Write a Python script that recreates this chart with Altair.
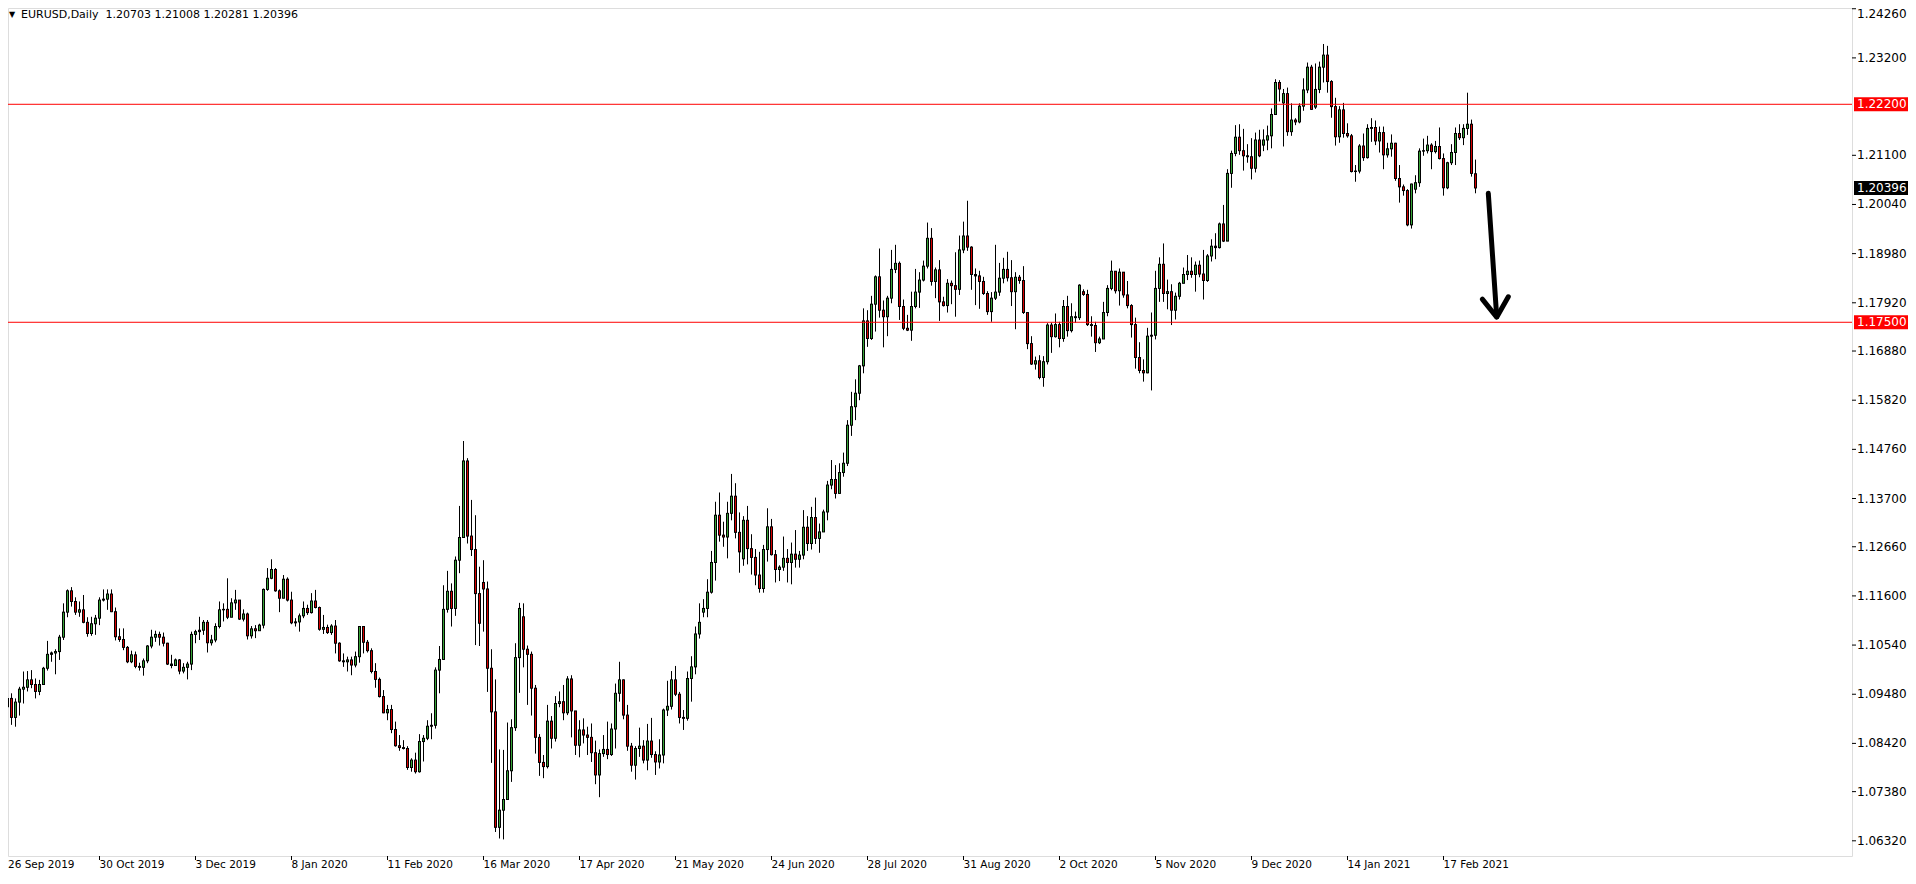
import altair as alt
import numpy as np
import pandas as pd

# ---------------- data ----------------
symbol_title = "EURUSD,Daily\u00a0\u00a01.20703 1.21008 1.20281 1.20396"

date_labels = ["26 Sep 2019", "30 Oct 2019", "3 Dec 2019", "8 Jan 2020", "11 Feb 2020",
               "16 Mar 2020", "17 Apr 2020", "21 May 2020", "24 Jun 2020", "28 Jul 2020",
               "31 Aug 2020", "2 Oct 2020", "5 Nov 2020", "9 Dec 2020", "14 Jan 2021",
               "17 Feb 2021"]
bars_per_label = 24

price_ticks = [1.24260, 1.23200, 1.21100, 1.20040, 1.18980, 1.17920, 1.16880, 1.15820,
               1.14760, 1.13700, 1.12660, 1.11600, 1.10540, 1.09480, 1.08420, 1.07380,
               1.06320]

level_lines = [1.22200, 1.17500]
last_price = 1.20396

opens = [
    1.0943, 1.0921, 1.0939, 1.0898, 1.0931, 1.0959, 1.0963, 1.0979, 1.0969, 1.0954,
    1.0969, 1.1004, 1.1034, 1.1037, 1.1040, 1.1071, 1.1125, 1.1171, 1.1148, 1.1125,
    1.1130, 1.1103, 1.1079, 1.1100, 1.1112, 1.1151, 1.1153, 1.1164, 1.1126, 1.1072,
    1.1066, 1.1049, 1.1018, 1.1033, 1.1008, 1.1006, 1.1020, 1.1052, 1.1071, 1.1077,
    1.1071, 1.1058, 1.1013, 1.1010, 1.1022, 1.0998, 1.1006, 1.1013, 1.1077, 1.1083,
    1.1086, 1.1103, 1.1059, 1.1065, 1.1094, 1.1130, 1.1131, 1.1114, 1.1145, 1.1151,
    1.1110, 1.1121, 1.1074, 1.1089, 1.1085, 1.1097, 1.1174, 1.1198, 1.1217, 1.1171,
    1.1155, 1.1196, 1.1151, 1.1102, 1.1104, 1.1117, 1.1133, 1.1124, 1.1149, 1.1135,
    1.1088, 1.1092, 1.1081, 1.1095, 1.1058, 1.1020, 1.1018, 1.1022, 1.1011, 1.1029,
    1.1094, 1.1060, 1.1042, 1.0997, 1.0980, 1.0943, 1.0908, 1.0915, 1.0872, 1.0837,
    1.0833, 1.0831, 1.0790, 1.0806, 1.0781, 1.0846, 1.0853, 1.0879, 1.0881, 1.1000,
    1.1023, 1.1131, 1.1170, 1.1133, 1.1237, 1.1286, 1.1451, 1.1289, 1.1260, 1.1165,
    1.1189, 1.1175, 1.1004, 1.0910, 1.0661, 1.0698, 1.0721, 1.0783, 1.0876, 1.1027,
    1.1115, 1.1045, 1.1034, 1.0961, 1.0855, 1.0801, 1.0792, 1.0890, 1.0853, 1.0928,
    1.0932, 1.0908, 1.0981, 1.0912, 1.0838, 1.0871, 1.0860, 1.0855, 1.0822, 1.0774,
    1.0820, 1.0829, 1.0818, 1.0873, 1.0950, 1.0979, 1.0903, 1.0836, 1.0795, 1.0831,
    1.0836, 1.0806, 1.0847, 1.0818, 1.0802, 1.0817, 1.0914, 1.0922, 1.0979, 1.0948,
    1.0898, 1.0896, 1.0982, 1.1007, 1.1078, 1.1125, 1.1133, 1.1168, 1.1232, 1.1334,
    1.1291, 1.1287, 1.1338, 1.1375, 1.1297, 1.1240, 1.1323, 1.1262, 1.1243, 1.1205,
    1.1176, 1.1260, 1.1309, 1.1249, 1.1217, 1.1222, 1.1241, 1.1232, 1.1250, 1.1239,
    1.1248, 1.1308, 1.1273, 1.1329, 1.1284, 1.1298, 1.1341, 1.1399, 1.1411, 1.1381,
    1.1426, 1.1446, 1.1528, 1.1568, 1.1597, 1.1656, 1.1753, 1.1715, 1.1789, 1.1848,
    1.1776, 1.1762, 1.1802, 1.1864, 1.1877, 1.1784, 1.1737, 1.1733, 1.1784, 1.1815,
    1.1841, 1.1871, 1.1931, 1.1838, 1.1863, 1.1794, 1.1786, 1.1834, 1.1829, 1.1821,
    1.1906, 1.1936, 1.1912, 1.1853, 1.1850, 1.1838, 1.1812, 1.1773, 1.1802, 1.1815,
    1.1845, 1.1864, 1.1846, 1.1816, 1.1847, 1.1840, 1.1771, 1.1704, 1.1660, 1.1667,
    1.1631, 1.1665, 1.1744, 1.1719, 1.1745, 1.1715, 1.1784, 1.1732, 1.1762, 1.1760,
    1.1816, 1.1810, 1.1745, 1.1743, 1.1706, 1.1714, 1.1771, 1.1823, 1.1860, 1.1818,
    1.1858, 1.1809, 1.1786, 1.1745, 1.1674, 1.1646, 1.1641, 1.1720, 1.1722, 1.1823,
    1.1875, 1.1812, 1.1816, 1.1776, 1.1806, 1.1834, 1.1853, 1.1860, 1.1853, 1.1873,
    1.1854, 1.1840, 1.1893, 1.1914, 1.1911, 1.1962, 1.1925, 1.2071, 1.2114, 1.2149,
    1.2120, 1.2109, 1.2107, 1.2082, 1.2143, 1.2132, 1.2143, 1.2152, 1.2198, 1.2267,
    1.2223, 1.2243, 1.2161, 1.2186, 1.2182, 1.2216, 1.2251, 1.2300, 1.2214, 1.2252,
    1.2300, 1.2326, 1.2269, 1.2215, 1.2150, 1.2208, 1.2157, 1.2152, 1.2075, 1.2076,
    1.2130, 1.2105, 1.2168, 1.2170, 1.2141, 1.2159, 1.2111, 1.2124, 1.2136, 1.2060,
    1.2042, 1.2034, 1.1960, 1.2037, 1.2051, 1.2119, 1.2120, 1.2132, 1.2118, 1.2129,
    1.2103, 1.2040, 1.2094, 1.2116, 1.2157, 1.2148, 1.2168, 1.2177, 1.20703,
]

highs = [
    1.0968, 1.0959, 1.0950, 1.0939, 1.0964, 1.0997, 1.0998, 1.1000, 1.0982, 1.0979,
    1.1007, 1.1063, 1.1040, 1.1045, 1.1076, 1.1144, 1.1174, 1.1179, 1.1157, 1.1148,
    1.1162, 1.1114, 1.1115, 1.1119, 1.1157, 1.1174, 1.1174, 1.1174, 1.1135, 1.1090,
    1.1090, 1.1052, 1.1042, 1.1040, 1.1016, 1.1025, 1.1054, 1.1087, 1.1085, 1.1083,
    1.1081, 1.1059, 1.1033, 1.1025, 1.1024, 1.1015, 1.1018, 1.1083, 1.1087, 1.1115,
    1.1108, 1.1108, 1.1076, 1.1101, 1.1148, 1.1144, 1.1198, 1.1155, 1.1173, 1.1151,
    1.1131, 1.1124, 1.1095, 1.1097, 1.1100, 1.1176, 1.1220, 1.1239, 1.1220, 1.1174,
    1.1205, 1.1200, 1.1169, 1.1112, 1.1122, 1.1148, 1.1141, 1.1166, 1.1173, 1.1137,
    1.1119, 1.1098, 1.1099, 1.1108, 1.1060, 1.1036, 1.1029, 1.1029, 1.1040, 1.1095,
    1.1094, 1.1065, 1.1047, 1.1015, 1.0984, 1.0957, 1.0925, 1.0925, 1.0889, 1.0860,
    1.0849, 1.0836, 1.0810, 1.0822, 1.0862, 1.0860, 1.0892, 1.0907, 1.1006, 1.1052,
    1.1183, 1.1214, 1.1187, 1.1245, 1.1354, 1.1494, 1.1457, 1.1367, 1.1334, 1.1223,
    1.1237, 1.1191, 1.1045, 1.0980, 1.0829, 1.0828, 1.0887, 1.0894, 1.1058, 1.1145,
    1.1144, 1.1053, 1.1040, 1.0968, 1.0862, 1.0817, 1.0925, 1.0901, 1.0944, 1.0954,
    1.0968, 1.0987, 1.0989, 1.0912, 1.0892, 1.0896, 1.0878, 1.0885, 1.0848, 1.0829,
    1.0860, 1.0889, 1.0885, 1.0971, 1.1018, 1.0980, 1.0925, 1.0843, 1.0836, 1.0876,
    1.0849, 1.0884, 1.0897, 1.0825, 1.0851, 1.0917, 1.0977, 1.0998, 1.1009, 1.0953,
    1.0914, 1.0997, 1.1030, 1.1094, 1.1144, 1.1153, 1.1196, 1.1257, 1.1363, 1.1383,
    1.1320, 1.1363, 1.1423, 1.1403, 1.1340, 1.1332, 1.1354, 1.1293, 1.1261, 1.1255,
    1.1270, 1.1349, 1.1326, 1.1259, 1.1226, 1.1288, 1.1261, 1.1275, 1.1302, 1.1257,
    1.1345, 1.1332, 1.1352, 1.1372, 1.1316, 1.1346, 1.1408, 1.1453, 1.1442, 1.1446,
    1.1469, 1.1539, 1.1600, 1.1627, 1.1658, 1.1780, 1.1776, 1.1807, 1.1851, 1.1909,
    1.1797, 1.1807, 1.1906, 1.1917, 1.1881, 1.1799, 1.1766, 1.1816, 1.1865, 1.1858,
    1.1883, 1.1965, 1.1953, 1.1868, 1.1884, 1.1805, 1.1843, 1.1840, 1.1901, 1.1937,
    1.1967, 1.2012, 1.1914, 1.1866, 1.1861, 1.1848, 1.1817, 1.1815, 1.1917, 1.1878,
    1.1889, 1.1902, 1.1884, 1.1858, 1.1852, 1.1871, 1.1768, 1.1720, 1.1676, 1.1679,
    1.1677, 1.1748, 1.1749, 1.1769, 1.1751, 1.1798, 1.1807, 1.1791, 1.1773, 1.1832,
    1.1821, 1.1820, 1.1763, 1.1751, 1.1719, 1.1794, 1.1830, 1.1883, 1.1859, 1.1866,
    1.1858, 1.1839, 1.1789, 1.1760, 1.1707, 1.1670, 1.1738, 1.1771, 1.1861, 1.1890,
    1.1920, 1.1842, 1.1832, 1.1814, 1.1837, 1.1868, 1.1895, 1.1890, 1.1881, 1.1883,
    1.1906, 1.1897, 1.1929, 1.1942, 1.1965, 1.2003, 1.2080, 1.2120, 1.2175, 1.2177,
    1.2167, 1.2134, 1.2147, 1.2159, 1.2165, 1.2166, 1.2174, 1.2211, 1.2274, 1.2272,
    1.2253, 1.2256, 1.2222, 1.2190, 1.2222, 1.2276, 1.2310, 1.2305, 1.2308, 1.2312,
    1.2350, 1.2346, 1.2272, 1.2234, 1.2216, 1.2223, 1.2179, 1.2156, 1.2089, 1.2134,
    1.2157, 1.2177, 1.2190, 1.2185, 1.2172, 1.2172, 1.2137, 1.2155, 1.2137, 1.2089,
    1.2047, 1.2037, 1.2049, 1.2067, 1.2125, 1.2146, 1.2152, 1.2136, 1.2141, 1.2170,
    1.2114, 1.2096, 1.2134, 1.2170, 1.2177, 1.2177, 1.2245, 1.2187, 1.21008,
]

lows = [
    1.0907, 1.0903, 1.0882, 1.0878, 1.0902, 1.0928, 1.0954, 1.0961, 1.0939, 1.0946,
    1.0968, 1.0999, 1.1018, 1.0991, 1.1022, 1.1065, 1.1114, 1.1137, 1.1119, 1.1115,
    1.1101, 1.1072, 1.1074, 1.1076, 1.1097, 1.1148, 1.1130, 1.1125, 1.1064, 1.1061,
    1.1043, 1.1015, 1.1015, 1.1004, 1.0999, 1.0988, 1.1015, 1.1047, 1.1061, 1.1053,
    1.1051, 1.1011, 1.1004, 1.1009, 1.0991, 1.0993, 1.0980, 1.1000, 1.1058, 1.1065,
    1.1076, 1.1038, 1.1053, 1.1060, 1.1090, 1.1105, 1.1110, 1.1119, 1.1130, 1.1108,
    1.1105, 1.1066, 1.1068, 1.1069, 1.1085, 1.1090, 1.1171, 1.1196, 1.1169, 1.1125,
    1.1162, 1.1148, 1.1099, 1.1094, 1.1083, 1.1112, 1.1119, 1.1122, 1.1133, 1.1085,
    1.1078, 1.1078, 1.1076, 1.1036, 1.1018, 1.1007, 1.0997, 1.0989, 1.1006, 1.1016,
    1.1036, 1.1038, 1.0993, 1.0962, 1.0941, 1.0907, 1.0892, 1.0864, 1.0835, 1.0826,
    1.0829, 1.0785, 1.0781, 1.0777, 1.0779, 1.0803, 1.0849, 1.0851, 1.0874, 1.0950,
    1.1036, 1.1124, 1.1094, 1.1117, 1.1209, 1.1339, 1.1273, 1.1246, 1.1054, 1.1052,
    1.1083, 1.0953, 1.0800, 1.0651, 1.0637, 1.0635, 1.0720, 1.0759, 1.0869, 1.0951,
    1.1006, 1.0925, 1.0902, 1.0820, 1.0772, 1.0767, 1.0788, 1.0831, 1.0846, 1.0920,
    1.0892, 1.0903, 1.0855, 1.0817, 1.0812, 1.0842, 1.0817, 1.0802, 1.0754, 1.0726,
    1.0813, 1.0808, 1.0815, 1.0831, 1.0932, 1.0894, 1.0826, 1.0781, 1.0764, 1.0813,
    1.0799, 1.0784, 1.0811, 1.0774, 1.0788, 1.0799, 1.0901, 1.0915, 1.0944, 1.0885,
    1.0871, 1.0891, 1.0932, 1.0991, 1.1068, 1.1114, 1.1114, 1.1165, 1.1193, 1.1277,
    1.1266, 1.1241, 1.1323, 1.1284, 1.1210, 1.1225, 1.1228, 1.1206, 1.1183, 1.1167,
    1.1167, 1.1234, 1.1247, 1.1189, 1.1192, 1.1214, 1.1189, 1.1185, 1.1221, 1.1221,
    1.1239, 1.1257, 1.1260, 1.1272, 1.1253, 1.1298, 1.1323, 1.1390, 1.1370, 1.1381,
    1.1417, 1.1440, 1.1505, 1.1539, 1.1582, 1.1640, 1.1697, 1.1712, 1.1730, 1.1760,
    1.1696, 1.1720, 1.1791, 1.1856, 1.1755, 1.1733, 1.1731, 1.1710, 1.1780, 1.1781,
    1.1838, 1.1866, 1.1829, 1.1802, 1.1753, 1.1784, 1.1771, 1.1789, 1.1762, 1.1809,
    1.1899, 1.1904, 1.1820, 1.1787, 1.1779, 1.1809, 1.1766, 1.1751, 1.1798, 1.1807,
    1.1834, 1.1838, 1.1785, 1.1735, 1.1833, 1.1768, 1.1692, 1.1658, 1.1648, 1.1627,
    1.1611, 1.1659, 1.1684, 1.1717, 1.1696, 1.1708, 1.1719, 1.1728, 1.1749, 1.1755,
    1.1807, 1.1742, 1.1719, 1.1686, 1.1703, 1.1715, 1.1763, 1.1819, 1.1812, 1.1786,
    1.1803, 1.1780, 1.1717, 1.1650, 1.1640, 1.1622, 1.1640, 1.1603, 1.1713, 1.1794,
    1.1794, 1.1778, 1.1744, 1.1756, 1.1799, 1.1836, 1.1841, 1.1846, 1.1816, 1.1847,
    1.1799, 1.1837, 1.1881, 1.1886, 1.1909, 1.1923, 1.1926, 1.2040, 1.2108, 1.2111,
    1.2077, 1.2094, 1.2058, 1.2073, 1.2106, 1.2119, 1.2121, 1.2125, 1.2197, 1.2226,
    1.2129, 1.2152, 1.2152, 1.2175, 1.2179, 1.2206, 1.2244, 1.2208, 1.2210, 1.2244,
    1.2267, 1.2245, 1.2191, 1.2131, 1.2137, 1.2148, 1.2148, 1.2073, 1.2053, 1.2071,
    1.2098, 1.2103, 1.2139, 1.2132, 1.2116, 1.2080, 1.2105, 1.2107, 1.2055, 1.2008,
    1.2023, 1.1957, 1.1952, 1.2028, 1.2042, 1.2109, 1.2114, 1.2080, 1.2114, 1.2101,
    1.2023, 1.2037, 1.2089, 1.2089, 1.2143, 1.2132, 1.2154, 1.2064, 1.20281,
]

closes = [
    1.0921, 1.0939, 1.0898, 1.0931, 1.0959, 1.0963, 1.0979, 1.0969, 1.0954, 1.0969,
    1.1004, 1.1034, 1.1037, 1.1040, 1.1071, 1.1125, 1.1171, 1.1148, 1.1125, 1.1130,
    1.1103, 1.1079, 1.1100, 1.1112, 1.1151, 1.1153, 1.1164, 1.1126, 1.1072, 1.1066,
    1.1049, 1.1018, 1.1033, 1.1008, 1.1006, 1.1020, 1.1052, 1.1071, 1.1077, 1.1071,
    1.1058, 1.1013, 1.1010, 1.1022, 1.0998, 1.1006, 1.1013, 1.1077, 1.1083, 1.1086,
    1.1103, 1.1059, 1.1065, 1.1094, 1.1130, 1.1131, 1.1114, 1.1145, 1.1151, 1.1110,
    1.1121, 1.1074, 1.1089, 1.1085, 1.1097, 1.1174, 1.1198, 1.1217, 1.1171, 1.1155,
    1.1196, 1.1151, 1.1102, 1.1104, 1.1117, 1.1133, 1.1124, 1.1149, 1.1135, 1.1088,
    1.1092, 1.1081, 1.1095, 1.1058, 1.1020, 1.1018, 1.1022, 1.1011, 1.1029, 1.1094,
    1.1060, 1.1042, 1.0997, 1.0980, 1.0943, 1.0908, 1.0915, 1.0872, 1.0837, 1.0833,
    1.0831, 1.0790, 1.0806, 1.0781, 1.0846, 1.0853, 1.0879, 1.0881, 1.1000, 1.1023,
    1.1131, 1.1170, 1.1133, 1.1237, 1.1286, 1.1451, 1.1289, 1.1260, 1.1165, 1.1101,
    1.1175, 1.1004, 1.0910, 1.0661, 1.0698, 1.0721, 1.0783, 1.0876, 1.1027, 1.1133,
    1.1045, 1.1034, 1.0961, 1.0855, 1.0801, 1.0792, 1.0890, 1.0853, 1.0928, 1.0932,
    1.0908, 1.0981, 1.0912, 1.0838, 1.0871, 1.0860, 1.0855, 1.0822, 1.0774, 1.0820,
    1.0829, 1.0818, 1.0873, 1.0950, 1.0979, 1.0903, 1.0836, 1.0795, 1.0831, 1.0836,
    1.0806, 1.0847, 1.0818, 1.0802, 1.0817, 1.0914, 1.0922, 1.0979, 1.0948, 1.0898,
    1.0896, 1.0982, 1.1007, 1.1078, 1.1103, 1.1133, 1.1168, 1.1232, 1.1334, 1.1291,
    1.1287, 1.1338, 1.1375, 1.1297, 1.1255, 1.1323, 1.1262, 1.1243, 1.1205, 1.1176,
    1.1260, 1.1309, 1.1249, 1.1217, 1.1222, 1.1241, 1.1232, 1.1250, 1.1239, 1.1248,
    1.1308, 1.1273, 1.1329, 1.1284, 1.1298, 1.1341, 1.1399, 1.1411, 1.1381, 1.1426,
    1.1446, 1.1528, 1.1568, 1.1597, 1.1656, 1.1753, 1.1715, 1.1789, 1.1848, 1.1776,
    1.1762, 1.1802, 1.1864, 1.1877, 1.1784, 1.1737, 1.1733, 1.1784, 1.1815, 1.1841,
    1.1871, 1.1931, 1.1838, 1.1863, 1.1794, 1.1786, 1.1834, 1.1829, 1.1821, 1.1906,
    1.1936, 1.1912, 1.1853, 1.1850, 1.1838, 1.1812, 1.1773, 1.1802, 1.1815, 1.1845,
    1.1864, 1.1846, 1.1816, 1.1847, 1.1840, 1.1771, 1.1704, 1.1660, 1.1667, 1.1631,
    1.1665, 1.1744, 1.1719, 1.1745, 1.1715, 1.1784, 1.1732, 1.1762, 1.1760, 1.1830,
    1.1810, 1.1745, 1.1743, 1.1706, 1.1714, 1.1771, 1.1823, 1.1860, 1.1818, 1.1858,
    1.1809, 1.1786, 1.1745, 1.1674, 1.1646, 1.1641, 1.1720, 1.1722, 1.1823, 1.1875,
    1.1812, 1.1816, 1.1776, 1.1806, 1.1834, 1.1853, 1.1860, 1.1853, 1.1873, 1.1854,
    1.1840, 1.1893, 1.1914, 1.1911, 1.1962, 1.1925, 1.2071, 1.2114, 1.2149, 1.2120,
    1.2109, 1.2107, 1.2082, 1.2143, 1.2109, 1.2143, 1.2152, 1.2198, 1.2267, 1.2253,
    1.2243, 1.2161, 1.2186, 1.2182, 1.2216, 1.2251, 1.2300, 1.2209, 1.2252, 1.2300,
    1.2326, 1.2269, 1.2215, 1.2150, 1.2208, 1.2157, 1.2152, 1.2075, 1.2076, 1.2130,
    1.2105, 1.2168, 1.2170, 1.2141, 1.2159, 1.2111, 1.2124, 1.2136, 1.2060, 1.2042,
    1.2034, 1.1960, 1.2048, 1.2051, 1.2119, 1.2120, 1.2132, 1.2118, 1.2129, 1.2103,
    1.2040, 1.2094, 1.2116, 1.2157, 1.2148, 1.2168, 1.2177, 1.2071, 1.20396,
]

# hand-drawn arrow annotation (bar index, price)
arrow_shaft_x = [371.2, 373.3]
arrow_shaft_y = [1.2028, 1.1762]
arrow_head_x = [369.7, 373.3, 376.2]
arrow_head_y = [1.1800, 1.1761, 1.1805]

# ---------------- layout / style ----------------
W, H = 1844, 848
BAR_PX = 4.0
X_LO = 1.125
X_HI = X_LO + W / BAR_PX
Y_HI = 1.24276
Y_LO = Y_HI - H / 4638.0
GREEN = "#36a336"
RED = "#d60000"
FONT = "DejaVu Sans"

df = pd.DataFrame({"i": np.arange(len(closes)), "open": opens, "high": highs,
                   "low": lows, "close": closes})
df["top"] = df[["open", "close"]].max(axis=1)
df["bot"] = df[["open", "close"]].min(axis=1)
df["wick_hi"] = df[["high", "open", "close"]].max(axis=1)
df["wick_lo"] = df[["low", "open", "close"]].min(axis=1)
df["x0"] = df["i"] - 0.375
df["x1"] = df["i"] + 0.375
df["c0"] = df["i"] - 0.125
df["c1"] = df["i"] + 0.125
df["dir"] = np.where(df["close"] >= df["open"], "up", "down")

xs = alt.Scale(domain=[X_LO, X_HI], nice=False, zero=False)
ys = alt.Scale(domain=[Y_LO, Y_HI], nice=False, zero=False)

base = alt.Chart(df)

wicks = base.mark_rule(color="black", strokeWidth=1, clip=True).encode(
    x=alt.X("i:Q", scale=xs, axis=None),
    y=alt.Y("wick_lo:Q", scale=ys, axis=None),
    y2="wick_hi:Q",
)

bodies = base.mark_rect(color="black", clip=True, yOffset=-0.5, y2Offset=0.5).encode(
    x=alt.X("x0:Q", scale=xs, axis=None),
    x2="x1:Q",
    y=alt.Y("top:Q", scale=ys, axis=None),
    y2="bot:Q",
)

fills = base.transform_filter("datum.top - datum.bot > 0.0003").mark_rect(
    clip=True, yOffset=0.5, y2Offset=-0.5).encode(
    x=alt.X("c0:Q", scale=xs, axis=None),
    x2="c1:Q",
    y=alt.Y("top:Q", scale=ys, axis=None),
    y2="bot:Q",
    color=alt.Color("dir:N", scale=alt.Scale(domain=["up", "down"], range=[GREEN, RED]),
                    legend=None),
)

levels = alt.Chart(pd.DataFrame({"level": level_lines})).mark_rule(
    color="#ff0000", strokeWidth=1).encode(y=alt.Y("level:Q", scale=ys, axis=None))

arrow_df = pd.DataFrame({
    "ax": arrow_shaft_x + arrow_head_x,
    "ay": arrow_shaft_y + arrow_head_y,
    "part": ["shaft"] * len(arrow_shaft_x) + ["head"] * len(arrow_head_x),
    "k": list(range(len(arrow_shaft_x))) + list(range(len(arrow_head_x))),
})
arrow = alt.Chart(arrow_df).mark_line(color="black", strokeWidth=5, strokeCap="round",
                                      strokeJoin="round").encode(
    x=alt.X("ax:Q", scale=xs, axis=None),
    y=alt.Y("ay:Q", scale=ys, axis=None),
    detail="part:N",
    order="k:Q",
)

# ---- price scale (right) drawn with marks ----
ytick_df = pd.DataFrame({"p": price_ticks, "lab": ["%.5f" % v for v in price_ticks]})
y_ticks = alt.Chart(ytick_df).mark_rule(color="black", strokeWidth=1).encode(
    y=alt.Y("p:Q", scale=ys, axis=None),
    x=alt.value(W), x2=alt.value(W + 4),
)
y_labels = alt.Chart(ytick_df).transform_calculate(
    lp="min(datum.p, %f)" % (Y_HI - 0.0012)
).mark_text(align="left", baseline="middle", font=FONT, fontSize=12,
            color="black").encode(
    y=alt.Y("lp:Q", scale=ys, axis=None),
    x=alt.value(W + 5),
    text="lab:N",
)

# ---- time scale (bottom) drawn with marks ----
xtick_df = pd.DataFrame({"pos": [k * bars_per_label for k in range(len(date_labels))],
                         "lab": date_labels})
x_ticks = alt.Chart(xtick_df).mark_rule(color="black", strokeWidth=1).encode(
    x=alt.X("pos:Q", scale=xs, axis=None),
    y=alt.value(H), y2=alt.value(H + 4),
)
x_labels = alt.Chart(xtick_df).transform_calculate(
    lpos="max(datum.pos, %f)" % X_LO
).mark_text(align="left", baseline="top", font=FONT, fontSize=10.5,
            color="black").encode(
    x=alt.X("lpos:Q", scale=xs, axis=None),
    y=alt.value(H + 4),
    text="lab:N",
)

# ---- price boxes ----
box_df = pd.DataFrame({
    "p": level_lines + [last_price],
    "fill": ["#ff0000", "#ff0000", "#000000"],
    "txt": ["%.5f" % v for v in level_lines + [last_price]],
})
boxes = alt.Chart(box_df).mark_rect(yOffset=-7, y2Offset=7).encode(
    x=alt.value(W + 2), x2=alt.value(W + 60),
    y=alt.Y("p:Q", scale=ys, axis=None), y2="p:Q",
    color=alt.Color("fill:N", scale=None),
)
box_text = alt.Chart(box_df).mark_text(align="left", baseline="middle", color="white",
                                       font=FONT, fontSize=12).encode(
    x=alt.value(W + 5),
    y=alt.Y("p:Q", scale=ys, axis=None),
    text="txt:N",
)

title_df = pd.DataFrame({"t": [symbol_title], "m": ["\u25BC"]})
title_txt = alt.Chart(title_df).mark_text(align="left", baseline="middle", font=FONT,
                                          fontSize=11, color="black").encode(
    x=alt.value(13), y=alt.value(6.5), text="t:N")
title_tri = alt.Chart(title_df).mark_text(align="center", baseline="middle", font=FONT,
                                          fontSize=8, color="black").encode(
    x=alt.value(4), y=alt.value(6.5), text="m:N")

chart = alt.layer(wicks, bodies, fills, levels, arrow, y_ticks, y_labels, x_ticks,
                  x_labels, boxes, box_text, title_txt, title_tri).properties(
    width=W, height=H,
    padding={"left": 0, "top": 0, "right": 56, "bottom": 16},
    autosize=alt.AutoSizeParams(type="none"),
    background="white",
).configure_view(stroke="black", strokeWidth=1).configure(font=FONT)

chart.save("out.html", embed_options={"renderer": "svg", "actions": False})
